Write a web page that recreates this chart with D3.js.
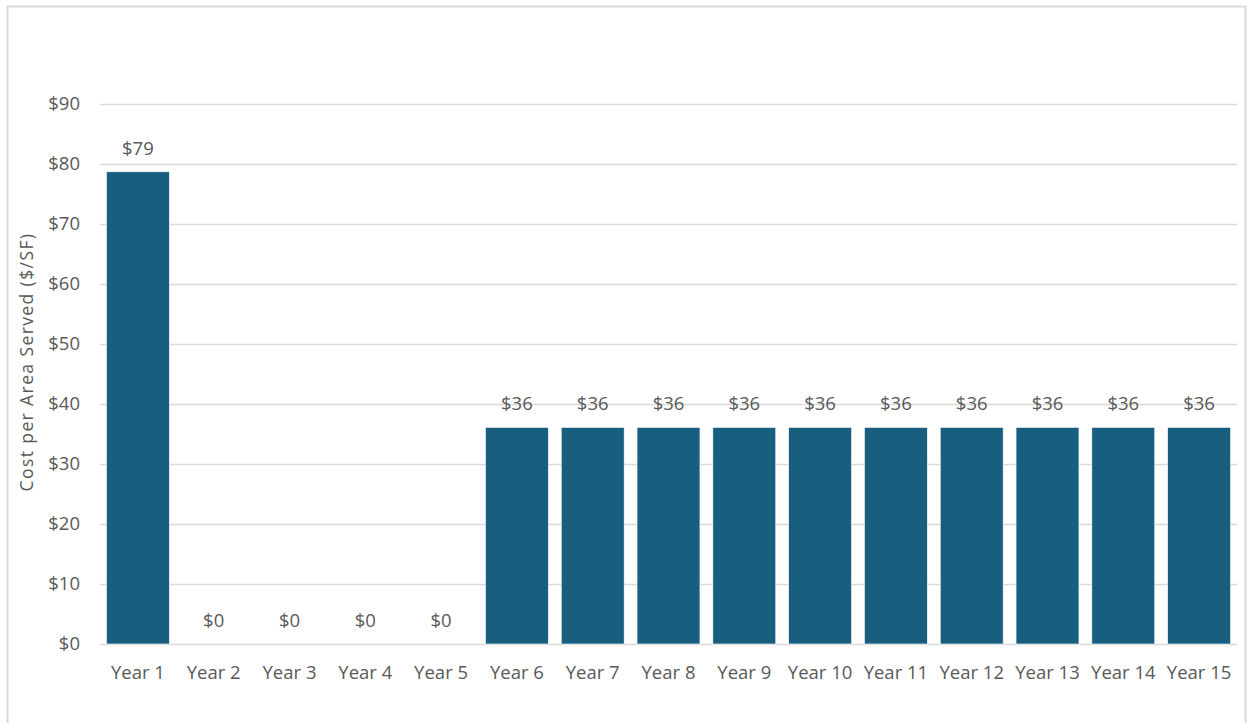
<!DOCTYPE html>
<html>
<head>
<meta charset="utf-8">
<script src="https://cdn.jsdelivr.net/npm/d3@7"></script>
<style>
  body { margin: 0; background: #fff; }
  text { font-family: "Open Sans", Lato, sans-serif; fill: #595959; }
</style>
</head>
<body>
<div id="container"></div>
<script>
// data
const years = ["Year 1", "Year 2", "Year 3", "Year 4", "Year 5", "Year 6", "Year 7", "Year 8",
  "Year 9", "Year 10", "Year 11", "Year 12", "Year 13", "Year 14", "Year 15"];
const costs = [78.7, 0, 0, 0, 0, 36.1, 36.1, 36.1, 36.1, 36.1, 36.1, 36.1, 36.1, 36.1, 36.1];
const yTicks = [0, 10, 20, 30, 40, 50, 60, 70, 80, 90];

const w = 1251, h = 723;
const m = { top: 104, right: 1251 - 1237, bottom: 723 - 644, left: 100 };

const svg = d3.select("#container").append("svg")
  .attr("width", w)
  .attr("height", h);

// chart border
svg.append("rect")
  .attr("x", 7.5).attr("y", 6.5)
  .attr("width", 1238).attr("height", 740)
  .attr("fill", "none")
  .attr("stroke", "#d9d9d9")
  .attr("stroke-width", 2);

const x = d3.scaleBand()
  .domain(years)
  .range([m.left, w - m.right])
  .paddingInner(0.17)
  .paddingOuter(0.085);

const y = d3.scaleLinear()
  .domain([0, 90])
  .range([h - m.bottom, m.top]);

// gridlines
svg.append("g")
  .selectAll("line")
  .data(yTicks)
  .enter()
  .append("line")
  .attr("x1", m.left)
  .attr("x2", w - m.right)
  .attr("y1", d => Math.round(y(d)) + 0.5)
  .attr("y2", d => Math.round(y(d)) + 0.5)
  .attr("stroke", "#d9d9d9")
  .attr("stroke-width", 1.5);

// y axis labels
const yAxis = d3.axisLeft(y)
  .tickValues(yTicks)
  .tickFormat(d => "$" + d)
  .tickSize(0)
  .tickPadding(20);
svg.append("g")
  .attr("transform", `translate(${m.left},0)`)
  .call(yAxis)
  .call(g => g.select(".domain").remove())
  .selectAll("text")
  .style("font-size", "18.5px")
  .attr("fill", "#595959");

// x axis labels
const xAxis = d3.axisBottom(x).tickSize(0).tickPadding(22);
svg.append("g")
  .attr("transform", `translate(0,${h - m.bottom})`)
  .call(xAxis)
  .call(g => g.select(".domain").remove())
  .selectAll("text")
  .style("font-size", "18.5px")
  .attr("fill", "#595959");

// bars
svg.append("g")
  .selectAll("rect")
  .data(costs)
  .enter()
  .append("rect")
  .attr("x", (d, i) => x(years[i]))
  .attr("y", d => y(d))
  .attr("width", x.bandwidth())
  .attr("height", d => y(0) - y(d))
  .attr("fill", "#175e7f")
  .attr("stroke", "#ffffff")
  .attr("stroke-width", 0.6);

// value labels
svg.append("g")
  .selectAll("text")
  .data(costs)
  .enter()
  .append("text")
  .attr("x", (d, i) => x(years[i]) + x.bandwidth() / 2)
  .attr("y", d => y(d) - 17)
  .attr("text-anchor", "middle")
  .style("font-size", "18.5px")
  .text(d => "$" + Math.round(d));

// y title
svg.append("text")
  .attr("transform", `translate(33,362) rotate(-90)`)
  .attr("text-anchor", "middle")
  .style("font-size", "17.5px")
  .style("letter-spacing", "1.4px")
  .text("Cost per Area  Served ($/SF)");
</script>
</body>
</html>
